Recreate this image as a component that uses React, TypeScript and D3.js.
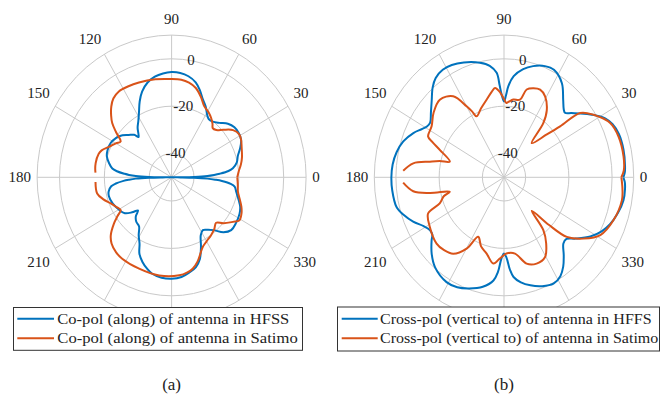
import React from "react";
import * as d3 from "d3";

// Radiation patterns in dB versus angle in degrees.
const coHfssAngle = [0, 0.5, 1, 2, 3, 4, 6, 8, 12, 17, 22, 27, 32, 37, 42, 47, 52, 56, 59, 63, 67, 71, 75, 80, 85, 90, 95, 100, 105, 110, 114, 118, 122, 126, 129, 131, 133, 137, 141, 146, 152, 158, 163, 168, 172, 174, 176, 177, 178, 179, 179.5, 180, 180.5, 181, 182, 183, 184, 186, 188, 192, 196, 203, 210, 216, 220, 223, 226, 230, 235, 239, 243, 246, 250, 254, 258, 264, 270, 276, 281, 286, 290, 294, 298, 302, 306, 310, 315, 320, 326, 333, 338, 342, 348, 352, 354, 356, 357, 358, 359, 359.5, 360];
const coHfssGain = [-50, -46, -40, -34, -31, -28.5, -24.5, -22.4, -20.3, -19.1, -17, -15.2, -14.7, -14.9, -16.2, -18.6, -20.2, -20.4, -19.2, -16.5, -14.3, -11.2, -8.5, -6.7, -5.8, -5.6, -6, -6.9, -8.6, -11.5, -15, -19, -22, -24.2, -26.5, -27.5, -25.5, -23.8, -21.8, -20.2, -19.2, -19.2, -19.8, -21.5, -23.3, -25.5, -29, -31, -34, -40, -46, -50, -46, -40, -34, -31, -28.5, -25, -22.8, -21.3, -20.9, -21.5, -22.8, -24.2, -27, -29.5, -27, -25.5, -24.7, -21.5, -18.5, -14.7, -12, -10, -8.4, -7.4, -7.2, -7.7, -9, -10.6, -13.2, -17.8, -22.3, -23.7, -22.6, -20.9, -17.2, -15.3, -15.4, -16, -17, -18.5, -20.5, -21.6, -23.5, -27.5, -30.5, -34, -40, -46, -50];

const coSatimoAngle = [0, 5, 10, 15, 22, 27, 31, 36, 41, 45, 48.5, 51, 54.8, 59, 64, 69, 74, 79, 84, 91, 100, 110, 117, 123, 128, 132, 136, 139.2, 142.5, 146.4, 150, 155, 160, 163, 170, 176.7, 180, 183.3, 191.6, 197, 202, 207, 211.3, 214, 217.2, 222, 226.2, 232, 237.3, 249.4, 262.4, 274.7, 280, 283.7, 288, 292, 295.3, 300, 305.8, 311, 316, 320, 325.5, 329, 334, 338.3, 343, 348.4, 354, 360];
const coSatimoGain = [-20.7, -19.9, -18.6, -17.5, -16.3, -15.2, -14.8, -16.1, -19.4, -21.8, -22.3, -21, -19.4, -18, -16.7, -13.6, -10.8, -9.3, -8.6, -8.5, -8, -7.4, -7, -6.8, -7.8, -9.8, -12.5, -15, -18.8, -22.7, -21.3, -19.4, -16.8, -16, -15.6, -16, null, -16, -16.1, -18.2, -20.7, -22.4, -23.4, -21, -17.7, -13.5, -11.3, -9.8, -9.2, -8.8, -8.2, -8.5, -9.3, -10.3, -12.6, -15.5, -17.5, -18.8, -19.9, -21, -22.4, -19.8, -16.8, -14.7, -15.3, -16.5, -18.2, -19.8, -20.3, -20.7];

const xHfssAngle = [0, 2, 5, 12, 19, 24, 28, 33, 37.5, 41, 44, 46, 50, 56, 63, 68, 74, 79, 84, 87, 88.5, 90, 91.8, 93, 94.4, 98, 103, 111, 117, 122, 127, 131, 136, 141, 146, 149, 152, 156, 162, 168, 174, 180, 186, 194, 199, 204, 209, 213, 216, 218.5, 224, 230, 239, 245, 251, 258, 263.6, 266, 268, 270, 272, 274, 276, 280, 285, 291, 297, 302, 306, 310, 314.5, 318, 322, 328, 333, 338, 344, 350, 355, 358, 360];
const xHfssGain = [5.2, 5.9, 6.2, 6.5, 6.2, 5, 3, -1.5, -5.7, -8.7, -10.8, -10.2, -7.4, -2.1, 0.9, 0.6, -1.2, -3.5, -7.1, -11.5, -15.5, -18, -15.1, -11, -5.8, -2.5, -0.4, 1.9, 3.2, 3.5, 2.5, 0.3, -3.5, -6.5, -8.8, -8.4, -6.8, -4.1, -1, 0.8, 1.8, 2.1, 2, 1.3, -1, -4, -7.5, -9.1, -9, -7.2, -3.5, -0.4, 1.6, 1.2, -0.4, -2.8, -6.2, -10, -15.7, -17.8, -16, -11, -7.7, -5, -2.8, -0.8, 0.4, -0.8, -3.4, -7, -10.8, -11.1, -8, -2.9, 0.5, 2.9, 4.8, 6.1, 6.2, 5.9, 5.2];

const xSatimoAngle = [0, 3, 9, 18, 25, 32.5, 37.6, 39.6, 42.4, 48.4, 51.5, 55, 60.9, 65.7, 70, 74.2, 77.3, 82.5, 86, 88, 90, 93, 96.3, 99, 103.7, 110, 116.3, 118, 120, 124.5, 132.2, 140, 147.3, 153.9, 156, 158.7, 165.2, 167, 169.1, 172, 176.6, 180, 182.8, 188, 190.9, 193.7, 196, 200.3, 203.5, 211.4, 221.9, 228, 233.9, 240.1, 244.6, 250, 256, 262.3, 266.8, 272, 279, 286, 292.5, 299.5, 305, 309.2, 312.3, 316, 319.1, 324.9, 331.3, 340.4, 350, 355, 360];
const xSatimoGain = [4.3, 5.5, 6, 5.7, 4.2, -0.9, -5.5, -16.3, -23.2, -30.7, -20.8, -15.5, -10.9, -9.4, -10, -11.5, -16.4, -16.9, -18, -18.6, -17, -14, -12.1, -13.5, -16.2, -19, -21.3, -18.5, -15.4, -8.5, -5.8, -7.5, -10.2, -10.9, -14, -18.1, -24.1, -19.5, -15.1, -7.6, -3.3, null, -3.3, -7.6, -15.1, -24.2, -21, -18.3, -11.7, -9.8, -8.1, -8.6, -10.1, -15.3, -22.2, -19, -16.8, -13.3, -15.7, -17.8, -17.4, -12.1, -10.6, -11.4, -16, -21.2, -30.9, -21, -11.6, -5, 0.8, 3.8, 5.4, 5, 4.3];

// Angle grid; the lower tick labels sit behind the legend and are left out.
const thetaTicks = [0, 30, 60, 90, 120, 150, 180, 210, 240, 270, 300, 330];
const thetaLabels = [0, 30, 60, 90, 120, 150, 180, 210, 330];
const rTicks = [-40, -20, 0];
const rLimits = [-50, 10];

const legendCo = ["Co-pol (along) of antenna in HFSS", "Co-pol (along) of antenna in Satimo"];
const legendCross = ["Cross-pol (vertical to) of antenna in HFFS", "Cross-pol (vertical to) of antenna in Satimo"];
const captions = ["(a)", "(b)"];

const BLUE = "#0072BD";
const ORANGE = "#D95319";
const GRID = "#c9c9c9";
const TEXT = "#222";
const FONT = "Liberation Serif, Times New Roman, DejaVu Serif, serif";

const R = 142.2;
const rScale = d3.scaleLinear().domain(rLimits).range([0, R]).clamp(true);

type Pt = [number, number | null];
const zip = (a: number[], v: (number | null)[]): Pt[] => a.map((t, i) => [t, v[i]]);

const radial = d3
  .lineRadial<Pt>()
  .angle((d) => ((90 - d[0]) * Math.PI) / 180)
  .radius((d) => rScale(d[1] as number))
  .defined((d) => d[1] !== null)
  .curve(d3.curveCatmullRom.alpha(0.5));

type PanelProps = {
  cx: number;
  cy: number;
  sx: number;
  series: { data: Pt[]; color: string }[];
  legend: { x: number; y: number; w: number; h: number; lineX0: number; lineX1: number; textX: number; rows: number[]; lengths: number[]; labels: string[] };
  caption: string;
};

function PolarPanel({ cx, cy, sx, series, legend, caption }: PanelProps) {
  const rad = Math.PI / 180;
  const gap = 6.5;
  return (
    <g>
      <g transform={`translate(${cx},${cy}) scale(${sx},1)`}>
        {[...rTicks, rLimits[1]].map((v) => (
          <circle key={v} r={rScale(v)} fill="none" stroke={GRID} strokeWidth={1} vectorEffect="non-scaling-stroke" />
        ))}
        {thetaTicks.map((t) => (
          <line
            key={t}
            x1={0}
            y1={0}
            x2={R * Math.cos(t * rad)}
            y2={-R * Math.sin(t * rad)}
            stroke={GRID}
            strokeWidth={1}
            vectorEffect="non-scaling-stroke"
          />
        ))}
        {series.map((s, i) => (
          <path
            key={i}
            d={radial(s.data) || ""}
            fill="none"
            stroke={s.color}
            strokeWidth={2}
            strokeLinejoin="round"
            vectorEffect="non-scaling-stroke"
          />
        ))}
      </g>
      {thetaLabels.map((t) => {
        const c = Math.cos(t * rad);
        const s = Math.sin(t * rad);
        const x = cx + sx * (R + gap) * c;
        const y = cy - (R + gap) * s - (Math.abs(s) > 0.05 ? Math.sign(s) * 10 : 0);
        const anchor = c > 0.05 ? "start" : c < -0.05 ? "end" : "middle";
        return (
          <text key={t} x={x} y={y} textAnchor={anchor} dominantBaseline="central" fontFamily={FONT} fontSize={15} fill={TEXT}>
            {t}
          </text>
        );
      })}
      {rTicks.map((v) => {
        const r = rScale(v);
        const x = cx + sx * r * Math.cos(80 * rad);
        const y = cy - r * Math.sin(80 * rad) - 1;
        return (
          <text key={v} x={x} y={y} textAnchor="middle" dominantBaseline="central" fontFamily={FONT} fontSize={15} fill={TEXT}>
            {v}
          </text>
        );
      })}
      <rect x={legend.x} y={legend.y} width={legend.w} height={legend.h} fill="#fff" stroke="#333" strokeWidth={1} />
      {series.map((s, i) => (
        <g key={i}>
          <line x1={legend.lineX0} x2={legend.lineX1} y1={legend.rows[i]} y2={legend.rows[i]} stroke={s.color} strokeWidth={2} />
          <text
            x={legend.textX}
            y={legend.rows[i]}
            dominantBaseline="central"
            fontFamily={FONT}
            fontSize={15}
            fill={TEXT}
            textLength={legend.lengths[i]}
            lengthAdjust="spacingAndGlyphs"
          >
            {legend.labels[i]}
          </text>
        </g>
      ))}
      <text x={cx} y={384} textAnchor="middle" dominantBaseline="central" fontFamily={FONT} fontSize={17} fill={TEXT}>
        {caption}
      </text>
    </g>
  );
}

export default function App() {
  return (
    <svg
      width={660}
      height={398}
      viewBox="0 0 660 398"
      fontFamily={FONT}
      style={{ position: "absolute", left: 0, top: 0, background: "#fff" }}
    >
      <rect width={660} height={398} fill="#fff" />
      <PolarPanel
        cx={171.6}
        cy={177.3}
        sx={134.5 / R}
        series={[
          { data: zip(coHfssAngle, coHfssGain), color: BLUE },
          { data: zip(coSatimoAngle, coSatimoGain), color: ORANGE },
        ]}
        legend={{ x: 13.5, y: 307.5, w: 289, h: 42.8, lineX0: 17.3, lineX1: 54, textX: 57.3, rows: [318.7, 338.3], lengths: [232, 240.4], labels: legendCo }}
        caption={captions[0]}
      />
      <PolarPanel
        cx={504}
        cy={177.3}
        sx={129.7 / R}
        series={[
          { data: zip(xHfssAngle, xHfssGain), color: BLUE },
          { data: zip(xSatimoAngle, xSatimoGain), color: ORANGE },
        ]}
        legend={{ x: 337.5, y: 307, w: 322, h: 44, lineX0: 341.7, lineX1: 377.7, textX: 380, rows: [318.7, 338.3], lengths: [271.7, 278.3], labels: legendCross }}
        caption={captions[1]}
      />
    </svg>
  );
}
